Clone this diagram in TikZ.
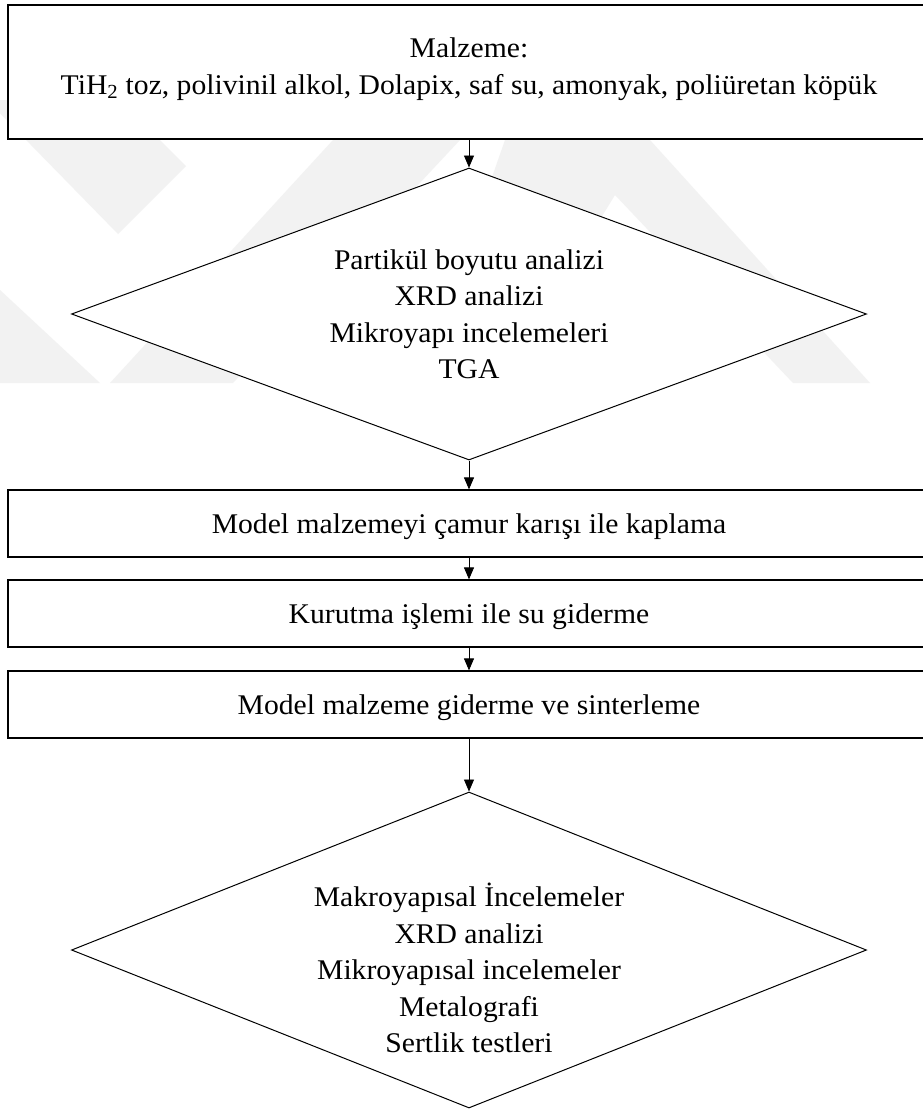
\documentclass[tikz,border=0pt]{standalone}
\usepackage{fontspec}
\setmainfont[FakeStretch=1.04]{Liberation Serif}
\usetikzlibrary{shapes.geometric,arrows.meta}
\begin{document}
\begin{tikzpicture}[x=1pt,y=-1pt,
  every node/.style={font=\fontsize{28.5}{36.5}\selectfont},
  procbox/.style={draw,line width=1.2pt,fill=white,rectangle,minimum width=922pt,
    minimum height=67pt,inner sep=0pt,align=center,text height=20pt,text depth=0pt},
  topbox/.style={draw,line width=1.2pt,fill=white,rectangle,minimum width=922pt,
    minimum height=134pt,inner sep=0pt},
  testdiam/.style={draw,line width=1pt,fill=white,diamond,minimum width=795pt,inner sep=0pt},
  testtext/.style={align=center,inner sep=0pt},
  flow/.style={-{Triangle[length=12pt,width=10pt]},line width=0.9pt},
  wmark/.style={fill=black!5}
]
% page
\fill[white] (0,0) rectangle (923,1111);
\useasboundingbox (0,0) rectangle (923,1111);

% faint background emblem
\fill[wmark] (-13,100) -- (120,100) -- (186,166) -- (118,234) -- cycle;
\fill[wmark] (333,140) -- (460,140) -- (233,383) -- (110,383) -- cycle;
\fill[wmark] (0,290) -- (100,383) -- (0,383) -- cycle;
\fill[wmark] (505,140) -- (650,140) -- (870,383) -- (793,383) -- (615,195)
  -- (500,383) -- (420,383) -- cycle;

% process boxes
\node[topbox] (mat) at (469,72) {};
\node[testtext] (matt) at ([yshift=3pt]mat.center)
  {Malzeme:\\TiH\textsubscript{2} toz, polivinil alkol, Dolapix, saf su, amonyak, poliüretan köpük};
\node[procbox] (coat) at (469,523.5) {Model malzemeyi çamur karışı ile kaplama};
\node[procbox] (dry) at (469,613.5) {Kurutma işlemi ile su giderme};
\node[procbox] (sint) at (469,704.5) {Model malzeme giderme ve sinterleme};

% analysis diamonds
\node[testdiam,minimum height=292pt] (an1) at (469,314) {};
\node[testtext] (an1t) at (an1.center)
  {Partikül boyutu analizi\\XRD analizi\\Mikroyapı incelemeleri\\TGA};
\node[testdiam,minimum height=316pt] (an2) at (469,950) {};
\node[testtext] (an2t) at ([yshift=-18pt]an2.center)
  {Makroyapısal İncelemeler\\XRD analizi\\Mikroyapısal incelemeler\\Metalografi\\Sertlik testleri};

% flow
\draw[flow] (mat) -- (an1);
\draw[flow] (an1) -- (coat);
\draw[flow] (coat) -- (dry);
\draw[flow] (dry) -- (sint);
\draw[flow] (sint) -- (an2);
\end{tikzpicture}
\end{document}
